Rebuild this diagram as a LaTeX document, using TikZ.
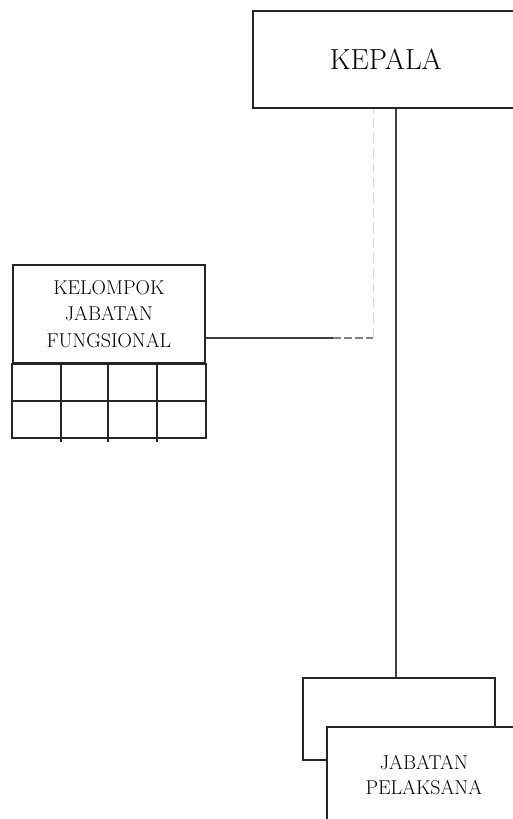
\documentclass[tikz,border=0pt]{standalone}
\usetikzlibrary{calc}
\begin{document}
\begin{tikzpicture}[x=1pt,y=-1pt,
  box/.style={draw=black!85,line width=1.7pt,rectangle,inner sep=0pt,fill=white,align=center,text=black},
  conn/.style={draw=black!75,line width=1.1pt},
  faint/.style={draw=black!15,line width=0.6pt,dash pattern=on 10pt off 5pt},
  grid/.style={draw=black!85,line width=1.6pt}]
\useasboundingbox (0,0) rectangle (513,819);
\clip (0,0) rectangle (513,819);
% KEPALA
\node[box,anchor=north west,minimum width=266pt,minimum height=97pt,
  font=\fontsize{29}{34}\selectfont] (kepala) at (252,10) {KEPALA};
% Kelompok Jabatan Fungsional
\node[box,anchor=north west,minimum width=192pt,minimum height=98pt,
  font=\fontsize{20}{26.5}\selectfont] (kjf) at (12,264) {KELOMPOK\\JABATAN\\FUNGSIONAL};
\coordinate (gb) at ($(kjf.south west)+(0,74)$);
\draw[grid] (kjf.south west) rectangle (kjf.south east |- gb);
\draw[grid] ($(kjf.south west)+(0,37)$) -- ($(kjf.south east)+(0,37)$);
\foreach \dx in {49,96,145}
  \draw[grid] ($(kjf.south west)+(\dx,0)$) -- ($(gb)+(\dx,4)$);
% connectors to kelompok
\coordinate (fj) at (373,338);
\draw[conn] (fj -| kjf.east) -- ($(fj)+(-40,0)$);
\draw[conn,draw=black!50,dash pattern=on 8pt off 3pt] ($(fj)+(-40,0)$) -- (fj);
\draw[faint] (fj) -- (fj |- kepala.south);
% Jabatan pelaksana
\node[box,anchor=north west,minimum width=192pt,minimum height=82pt] (back) at (302,677) {};
\node[box,anchor=north west,minimum width=194pt,minimum height=96pt,
  font=\fontsize{20}{25}\selectfont] (front) at (326,726) {JABATAN\\PELAKSANA};
% main line
\coordinate (mx) at (396,0);
\draw[conn] (kepala.south -| mx) -- (back.north -| mx);
\end{tikzpicture}
\end{document}
